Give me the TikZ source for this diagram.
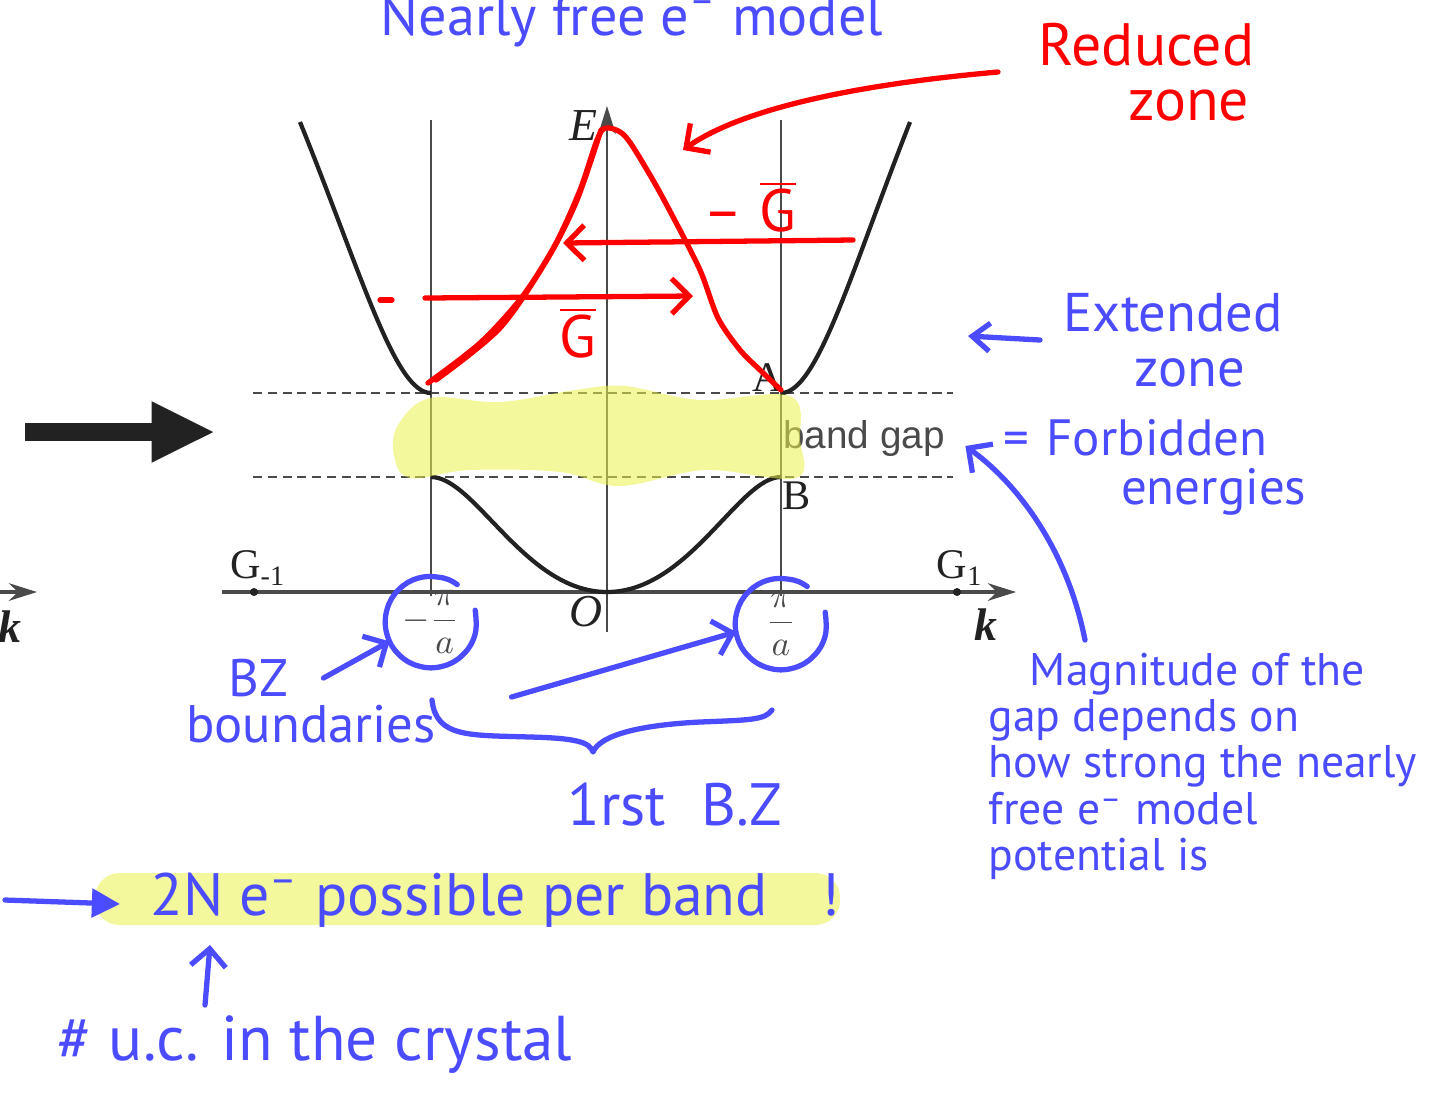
\documentclass[tikz,border=0pt]{standalone}
\usepackage{fontspec}
\setmainfont{Liberation Serif}
\setsansfont{Liberation Sans}
\newfontfamily\handfont[Ligatures=TeX]{PT Sans}
\usetikzlibrary{arrows.meta,positioning,calc}
\definecolor{ink}{HTML}{222222}
\definecolor{axisgray}{HTML}{4A4A4A}
\definecolor{penblue}{HTML}{4B4BFF}
\definecolor{penred}{HTML}{FF0000}
\definecolor{marker}{HTML}{EAF24A}
\newcommand{\penfont}[2]{\handfont\fontsize{#1}{#2}\selectfont}
\tikzset{
  band/.style={line width=1.2pt, draw=ink},
  guide/.style={line width=0.6pt, draw=axisgray},
  gapline/.style={line width=0.8pt, draw=axisgray, dash pattern=on 2.6pt off 1.6pt},
  axlabel/.style={font=\fontsize{12}{12}\selectfont, text=ink, inner sep=0pt},
  bluepen/.style={line width=1.5pt, draw=penblue, line cap=round, line join=round},
  redpen/.style={line width=1.5pt, draw=penred, line cap=round, line join=round},
  bluenote/.style={text=penblue, inner sep=0pt, align=left},
  rednote/.style={text=penred, inner sep=0pt, align=left},
  barb/.style={-{Straight Barb[length=5pt,width=10pt]}},
  ringspot/.style={circle, minimum size=0.9cm, inner sep=0pt},
  hilite/.style={fill=marker, fill opacity=0.55, draw=none}
}
\begin{document}
\begin{tikzpicture}[x=0.01cm, y=-0.01cm]
\useasboundingbox (0,0) rectangle (1431,1105);

% band diagram
\draw[guide] (431,120) -- (431,596);
\draw[guide] (781,120) -- (781,596);
\draw[guide, -{Stealth[length=8pt,width=5pt]}] (607,632) -- (607,106);
\draw[guide, line width=0.9pt, -{Stealth[length=8pt,width=5pt]}] (222,592) -- (1016,592);
\draw[gapline] (253,393) -- (953,393);
\draw[gapline] (253,477) -- (953,477);
\draw[band] (300,122) .. controls (362,275) and (395,393) .. (431,393);
\draw[band] (781,393) .. controls (817,393) and (850,275) .. (910,122);
\draw[band] (431,477) .. controls (475,477) and (525,592) .. (607,592) .. controls (689,592) and (739,477) .. (781,477);
\fill[ink] (254,592) circle[radius=4];
\fill[ink] (957,592) circle[radius=4];
\draw[guide, line width=0.9pt, -{Stealth[length=8pt,width=5pt]}] (-5,592) -- (37,592);

\node[axlabel, font=\itshape\fontsize{13}{13}\selectfont] (elabel) at (583,126) {E};
\node[axlabel] (alabel) at (768,378) {A};
\node[axlabel] (blabel) at (797,496) {B};
\node[axlabel, font=\itshape\fontsize{13}{13}\selectfont] (olabel) at (586,612) {O};
\node[axlabel, font=\bfseries\itshape\fontsize{13}{13}\selectfont] (kright) at (986,625) {k};
\node[axlabel, font=\bfseries\itshape\fontsize{13}{13}\selectfont] (kleft) at (10,627) {k};
\node[axlabel] (gminus) at (258,568) {G\textsubscript{-1}};
\node[axlabel] (gplus) at (960,568) {G\textsubscript{1}};
\node[axlabel, font=\fontsize{10}{10}\selectfont, text=axisgray] (mleft) at (431,622) {$\displaystyle -\frac{\pi}{a}$};
\node[axlabel, font=\fontsize{10}{10}\selectfont, text=axisgray] (mright) at (781,624) {$\displaystyle \frac{\pi}{a}$};
\node[axlabel, font=\sffamily\fontsize{11}{11}\selectfont, text=axisgray] (bandgap) at (864,438) {band gap};

% big arrow
\coordinate (bigtail) at (25,432);
\coordinate (bighead) at (215,432);
\draw[ink, line width=5pt, -{Triangle[length=18pt,width=16pt]}] (bigtail) -- (bighead);

% marker over the gap
\fill[hilite] plot[smooth cycle, tension=0.6] coordinates {(398,425) (430,398) (500,402) (575,390) (625,386) (700,400) (790,396) (800,440) (796,478) (705,470) (620,486) (560,472) (470,470) (410,478) (394,455)};

% reduced zone (red)
\draw[redpen] plot[smooth] coordinates {(428,383) (480,343) (522,297) (555,245) (580,190) (597,140) (606,128) (625,136) (650,175) (672,215) (700,270) (718,318) (740,350) (760,370) (781,390)};
\draw[redpen] plot[smooth] coordinates {(436,380) (500,328) (548,258) (577,200) (601,130)};
\coordinate (peak) at (683,150);
\coordinate (gstart) at (425,298);
\coordinate (gend) at (693,296);
\coordinate (gnegstart) at (853,240);
\coordinate (gnegend) at (563,243);
\draw[redpen] (380,300) -- (392,300);
\draw[redpen, barb] (gstart) -- (gend);
\draw[redpen, barb] (gnegstart) -- (gnegend);
\node[rednote, font=\penfont{17}{17}] (gpos) at (578,333) {$\overline{\hbox{G}}$};
\node[rednote, font=\penfont{17}{17}] (gneg) at (750,207) {\textendash\;$\overline{\hbox{G}}$};
\node[rednote, font=\penfont{17}{15.5}, anchor=west] (reduced) at (1038,72) {Reduced\\\hspace*{1.5em}zone};
\draw[redpen, barb] ($(reduced.west)+(-40,0)$) .. controls (850,85) and (740,110) .. (peak);

% notes (blue)
\node[bluenote, font=\penfont{16}{16}] (title) at (632,21) {Nearly free e\textsuperscript{\textendash} model};
\node[bluenote, font=\penfont{15.5}{15.5}, anchor=west] (extended) at (1063,340) {Extended\\\hspace*{1.3em}zone};
\draw[bluepen, -{Straight Barb[length=5pt,width=8pt]}] ($(extended.west)+(-23,0)$) -- ($(extended.west)+(-95,-4)$);
\node[bluenote, font=\penfont{14.5}{14}, anchor=west] (forbidden) at (1003,467) {=\,\,Forbidden\\\hspace*{2.3em}energies};
\node[bluenote, font=\penfont{13}{13.2}, anchor=north west] (magnitude) at (988,652) {\hspace*{0.9em}Magnitude of the\\gap depends on\\how strong the nearly\\free e\textsuperscript{\textendash} model\\potential is};
\draw[bluepen, barb] ($(magnitude.north west)+(97,-12)$) .. controls (1065,540) and (1010,478) .. ($(bandgap.east)+(20,8)$);

\node[ringspot] (ringL) at (mleft) {};
\node[ringspot] (ringR) at (mright) {};
\draw[bluepen] plot[smooth, tension=0.7] coordinates {(ringL.15) (ringL.-15) (ringL.-45) (ringL.-75) (ringL.-105) (ringL.-135) (ringL.-165) (ringL.165) (ringL.135) (ringL.105) (ringL.75) (ringL.55)};
\draw[bluepen] plot[smooth, tension=0.7] coordinates {(ringR.15) (ringR.-15) (ringR.-45) (ringR.-75) (ringR.-105) (ringR.-135) (ringR.-165) (ringR.165) (ringR.135) (ringR.105) (ringR.75) (ringR.55)};
\node[bluenote, font=\penfont{15}{15}] (bz) at (258,678) {BZ};
\node[bluenote, font=\penfont{15}{15}] (boundaries) at (311,724) {boundaries};
\draw[bluepen, barb] ($(bz.east)+(35,0)$) -- (ringL.205);
\draw[bluepen, barb] ($(boundaries.east)+(75,-27)$) -- (ringR.190);
\coordinate (bracetip) at (593,752);
\draw[bluepen] (432,700) .. controls (436,738) and (470,735) .. (530,737) .. controls (575,738) and (590,742) .. (bracetip) .. controls (600,735) and (640,725) .. (700,722) .. controls (750,720) and (765,720) .. (772,710);
\node[bluenote, font=\penfont{17}{17}] (firstbz) at (675,805) {1rst\hspace{0.6em}B.Z};

\fill[hilite, rounded corners=7pt] (95,873) rectangle (840,925);
\node[bluenote, font=\penfont{17}{17}, anchor=west] (twon) at (150,900) {2N e\textsuperscript{\textendash} possible per band\hspace{0.9em}!};
\draw[bluepen, -{Triangle[length=8pt,width=8pt]}] ($(twon.west)+(-145,0)$) -- ($(twon.west)+(-30,4)$);
\node[bluenote, font=\penfont{18}{18}] (crystal) at (315,1045) {\# u.c. in the crystal};
\coordinate (ucfoot) at (205,1005);
\coordinate (uctip) at (210,945);
\draw[bluepen, barb] (ucfoot) -- (uctip);
\end{tikzpicture}
\end{document}
